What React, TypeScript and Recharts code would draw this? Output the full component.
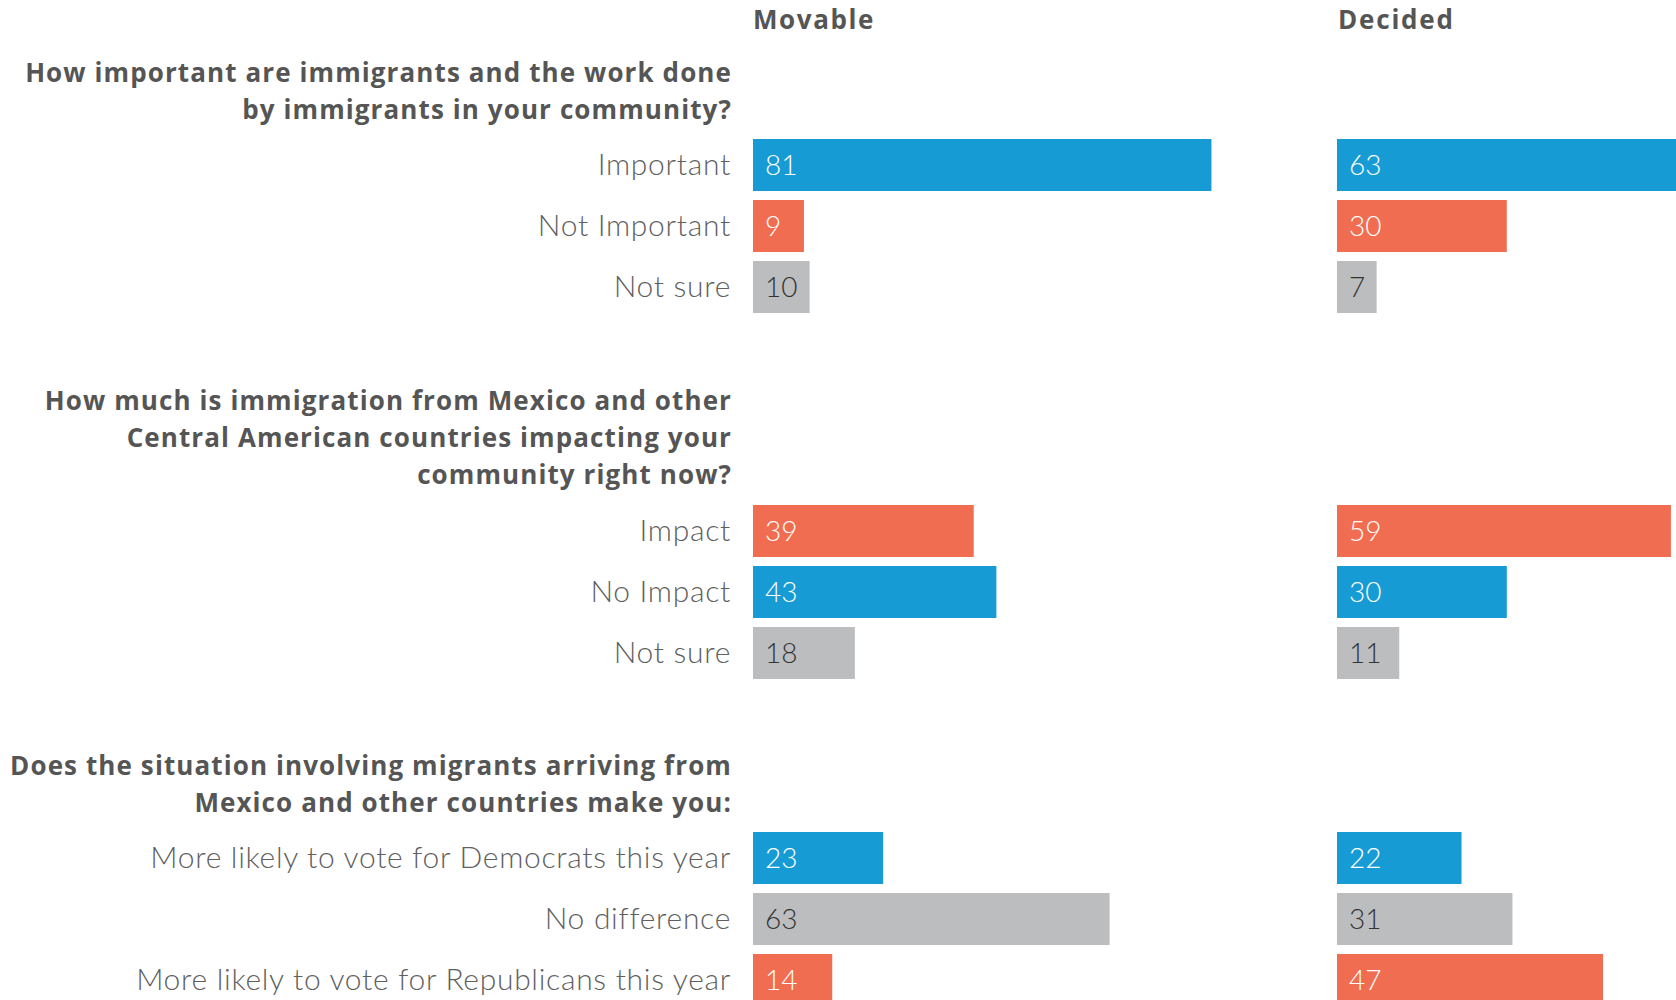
import { BarChart, Bar, XAxis, YAxis, Cell, LabelList } from "recharts";

// answers and shares, per question
const q1Answers = ["Important", "Not Important", "Not sure"];
const q1Movable = [81, 9, 10];
const q1Decided = [63, 30, 7];

const q2Answers = ["Impact", "No Impact", "Not sure"];
const q2Movable = [39, 43, 18];
const q2Decided = [59, 30, 11];

const q3Answers = [
  "More likely to vote for Democrats this year",
  "No difference",
  "More likely to vote for Republicans this year",
];
const q3Movable = [23, 63, 14];
const q3Decided = [22, 31, 47];

const columns = ["Movable", "Decided"];

const q1Lines = [
  "How important are immigrants and the work done",
  "by immigrants in your community?",
];
const q2Lines = [
  "How much is immigration from Mexico and other",
  "Central American countries impacting your",
  "community right now?",
];
const q3Lines = [
  "Does the situation involving migrants arriving from",
  "Mexico and other countries make you:",
];

const BLUE = "#169BD5";
const ORANGE = "#F06D51";
const GRAY = "#BCBDBF";

const FONT = "Lato, 'Open Sans', sans-serif";
const HEAD_FONT = "'Open Sans', Lato, sans-serif";
const ROW = 61;
const BAR = 52;
const PX_PER_100 = 566;
const LEFT_PLOT = 753;
const RIGHT_PLOT = 1337;

type Section = {
  answers: string[];
  movable: number[];
  decided: number[];
  colors: string[];
  lines: string[];
  firstBaseline: number;
  top: number;
};

const sections: Section[] = [
  {
    answers: q1Answers,
    movable: q1Movable,
    decided: q1Decided,
    colors: [BLUE, ORANGE, GRAY],
    lines: q1Lines,
    firstBaseline: 82,
    top: 134,
  },
  {
    answers: q2Answers,
    movable: q2Movable,
    decided: q2Decided,
    colors: [ORANGE, BLUE, GRAY],
    lines: q2Lines,
    firstBaseline: 410,
    top: 499.5,
  },
  {
    answers: q3Answers,
    movable: q3Movable,
    decided: q3Decided,
    colors: [BLUE, GRAY, ORANGE],
    lines: q3Lines,
    firstBaseline: 775,
    top: 827,
  },
];

function valueLabel(colors: string[]) {
  return (props: any) => {
    const { x, y, height, value, index } = props;
    return (
      <text
        x={Number(x) + 12}
        y={Number(y) + Number(height) / 2}
        dy={9.8}
        fontFamily={FONT}
        fontWeight={300}
        fontSize={28}
        fill={colors[index] === GRAY ? "#333333" : "#ffffff"}
      >
        {value}
      </text>
    );
  };
}

function SectionChart({ s, col }: { s: Section; col: 0 | 1 }) {
  const data = s.answers.map((answer, i) => ({
    answer,
    value: col === 0 ? s.movable[i] : s.decided[i],
  }));
  const isLeft = col === 0;
  const left = isLeft ? 0 : RIGHT_PLOT;
  const width = isLeft ? LEFT_PLOT + PX_PER_100 : PX_PER_100;
  return (
    <div style={{ position: "absolute", left, top: s.top }}>
      <BarChart
        width={width}
        height={ROW * data.length}
        data={data}
        layout="vertical"
        margin={{ top: 0, right: 0, bottom: 0, left: 0 }}
      >
        <XAxis type="number" domain={[0, 100]} hide />
        <YAxis
          type="category"
          dataKey="answer"
          hide={!isLeft}
          width={LEFT_PLOT}
          axisLine={false}
          tickLine={false}
          tickSize={0}
          tickMargin={22}
          interval={0}
          tick={{
            fontFamily: FONT,
            fontWeight: 300,
            fontSize: 30,
            letterSpacing: 0.7,
            fill: "#5f5f5f",
          }}
        />
        <Bar dataKey="value" barSize={BAR} isAnimationActive={false}>
          {data.map((d, i) => (
            <Cell key={d.answer} fill={s.colors[i]} />
          ))}
          <LabelList dataKey="value" content={valueLabel(s.colors)} />
        </Bar>
      </BarChart>
    </div>
  );
}

export default function App() {
  return (
    <div
      style={{
        position: "absolute",
        left: 0,
        top: 0,
        width: 1676,
        height: 1000,
        overflow: "hidden",
        background: "#fff",
      }}
    >
      {sections.map((s, i) => (
        <div key={i}>
          <SectionChart s={s} col={0} />
          <SectionChart s={s} col={1} />
        </div>
      ))}
      <svg
        width={1676}
        height={1000}
        style={{ position: "absolute", left: 0, top: 0, pointerEvents: "none" }}
      >
        <g fontFamily={HEAD_FONT} fontWeight={700} fontSize={26} fill="#555555">
          <text x={LEFT_PLOT} y={29} letterSpacing={1.6}>
            {columns[0]}
          </text>
          <text x={RIGHT_PLOT + 1} y={29} letterSpacing={1.8}>
            {columns[1]}
          </text>
          {sections.map((s, i) =>
            s.lines.map((line, j) => (
              <text
                key={`${i}-${j}`}
                x={732}
                y={s.firstBaseline + j * 37}
                textAnchor="end"
                letterSpacing={1.1}
              >
                {line}
              </text>
            ))
          )}
        </g>
      </svg>
    </div>
  );
}
